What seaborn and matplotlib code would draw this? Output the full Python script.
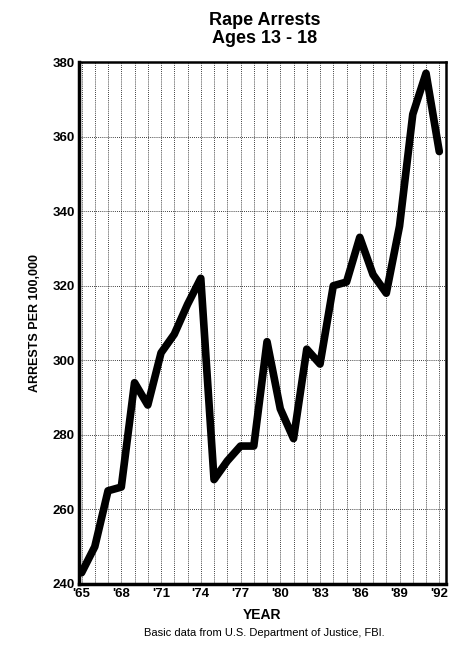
import pandas as pd
import matplotlib.pyplot as plt
import seaborn as sns

# Values
years = list(range(1965, 1993))
arrests = [243, 250, 265, 266, 294, 288, 302, 307, 315, 322,
           268, 273, 277, 277, 305, 287, 279, 303, 299, 320,
           321, 333, 323, 318, 336, 366, 377, 356]
y_ticks = [240, 260, 280, 300, 320, 340, 360, 380]
x_ticks = [1965, 1968, 1971, 1974, 1977, 1980, 1983, 1986, 1989, 1992]
x_labels = ["'65", "'68", "'71", "'74", "'77", "'80", "'83", "'86", "'89", "'92"]

df = pd.DataFrame({'Year': years, 'Arrests': arrests})

sns.set_style('white')
plt.rcParams['font.family'] = ['Liberation Sans', 'DejaVu Sans']
plt.rcParams['text.color'] = 'black'
plt.rcParams['axes.labelcolor'] = 'black'
plt.rcParams['xtick.color'] = 'black'
plt.rcParams['ytick.color'] = 'black'

fig = plt.figure(figsize=(4.64, 6.64), dpi=100)
ax = fig.add_axes([0.170, 0.1205, 0.791, 0.786])

sns.lineplot(data=df, x='Year', y='Arrests', color='black', linewidth=5.5, ax=ax)

ax.set_xlim(1964.8, 1992.5)
ax.set_ylim(240, 380)
ax.set_yticks(y_ticks)
ax.set_xticks(x_ticks)
ax.set_xticklabels(x_labels)
ax.set_xticks(years, minor=True)
ax.tick_params(axis='both', which='both', length=0, labelsize=9.5, pad=3)
for lab in ax.get_xticklabels() + ax.get_yticklabels():
    lab.set_fontweight('bold')

ax.grid(True, which='both', axis='x', color='black', linestyle=(0, (1, 1.5)), linewidth=0.6)
ax.grid(True, which='major', axis='y', color='black', linestyle=(0, (1, 1.5)), linewidth=0.6)

for side in ['left', 'bottom']:
    ax.spines[side].set_linewidth(2.5)
for side in ['top', 'right']:
    ax.spines[side].set_linewidth(1.8)
for sp in ax.spines.values():
    sp.set_color('black')

ax.set_xlabel('YEAR', fontsize=10, fontweight='bold', labelpad=6)
ax.set_ylabel('ARRESTS PER 100,000', fontsize=9, fontweight='bold', labelpad=8)

fig.text(0.57, 0.956, 'Rape Arrests\nAges 13 - 18', ha='center', va='center',
         fontsize=13, fontweight='bold', linespacing=1.1)
fig.text(0.57, 0.046, 'Basic data from U.S. Department of Justice, FBI.',
         ha='center', va='center', fontsize=8)

fig.savefig('out.png', dpi=100)
